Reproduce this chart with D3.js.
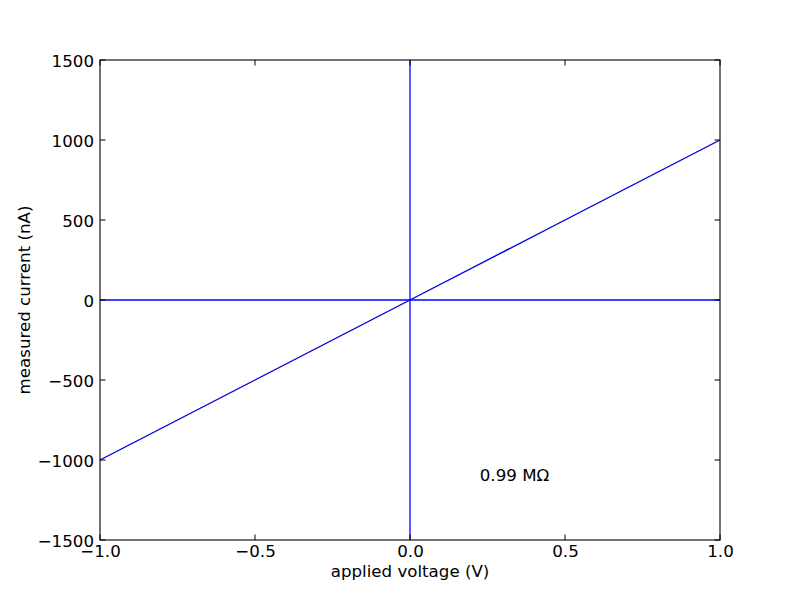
<!DOCTYPE html>
<html><head><meta charset="utf-8">
<script src="https://cdn.jsdelivr.net/npm/d3@7"></script>
<style>body{margin:0;background:#fff}svg{display:block}text{font-family:"DejaVu Sans",sans-serif}</style>
</head><body>
<script>
const voltage = [-1.0, -0.5, 0.0, 0.5, 1.0];
const current = [-1000, -500, 0, 500, 1000];
const xTicks = [-1.0, -0.5, 0.0, 0.5, 1.0];
const yTicks = [-1500, -1000, -500, 0, 500, 1000, 1500];
const annotation = {x: 0.225, y: -1130, text: "0.99 M\u03A9"};

const W = 800, H = 600, L = 100, R = 720, T = 60, B = 540;
const svg = d3.select("body").append("svg").attr("width", W).attr("height", H);
const x = d3.scaleLinear().domain([-1, 1]).range([L, R]);
const y = d3.scaleLinear().domain([-1500, 1500]).range([B, T]);
const fs = 16.67, tl = 5.5;

const g = svg.append("g");
g.append("line").attr("x1", L).attr("x2", R).attr("y1", y(0)).attr("y2", y(0)).attr("stroke", "#0000ff").attr("stroke-width", 1.3);
g.append("line").attr("x1", x(0)).attr("x2", x(0)).attr("y1", T).attr("y2", B).attr("stroke", "#0000ff").attr("stroke-width", 1.3);
g.append("path").datum(voltage.map((v, i) => [v, current[i]]))
  .attr("d", d3.line().x(d => x(d[0])).y(d => y(d[1])))
  .attr("fill", "none").attr("stroke", "#0000e0").attr("stroke-width", 1.4);

const fmtX = d => d.toFixed(1).replace("-", "\u2212");
const fmtY = d => String(d).replace("-", "\u2212");
const ax = svg.append("g");
const xb = d3.axisBottom(x).tickValues(xTicks).tickSize(0).tickPadding(0).tickFormat(fmtX);
const yl = d3.axisLeft(y).tickValues(yTicks).tickSize(0).tickPadding(0).tickFormat(fmtY);
ax.append("g").attr("transform", `translate(0,${B})`).call(xb)
  .call(s => { s.select(".domain").remove(); s.selectAll("text").attr("dy", null).attr("y", 17).style("font-size", fs + "px").attr("fill", "#000"); });
ax.append("g").attr("transform", `translate(${L},0)`).call(yl)
  .call(s => { s.select(".domain").remove(); s.selectAll("text").attr("x", -6).attr("dy", "0.36em").style("font-size", fs + "px").attr("fill", "#000"); });

xTicks.forEach(t => {
  ax.append("line").attr("x1", x(t)).attr("x2", x(t)).attr("y1", B).attr("y2", B - tl).attr("stroke", "#000");
  ax.append("line").attr("x1", x(t)).attr("x2", x(t)).attr("y1", T).attr("y2", T + tl).attr("stroke", "#000");
});
yTicks.forEach(t => {
  ax.append("line").attr("x1", L).attr("x2", L + tl).attr("y1", y(t)).attr("y2", y(t)).attr("stroke", "#000");
  ax.append("line").attr("x1", R).attr("x2", R - tl).attr("y1", y(t)).attr("y2", y(t)).attr("stroke", "#000");
});
ax.append("rect").attr("x", L).attr("y", T).attr("width", R - L).attr("height", B - T)
  .attr("fill", "none").attr("stroke", "#000").attr("stroke-width", 1.1);

svg.append("text").attr("x", (L + R) / 2).attr("y", 577).attr("text-anchor", "middle").style("font-size", fs + "px").text("applied voltage (V)");
svg.append("text").attr("transform", `translate(30,${(T + B) / 2}) rotate(-90)`).attr("text-anchor", "middle").style("font-size", fs + "px").text("measured current (nA)");
svg.append("text").attr("x", x(annotation.x)).attr("y", y(annotation.y)).style("font-size", fs + "px").text(annotation.text);
</script>
</body></html>
